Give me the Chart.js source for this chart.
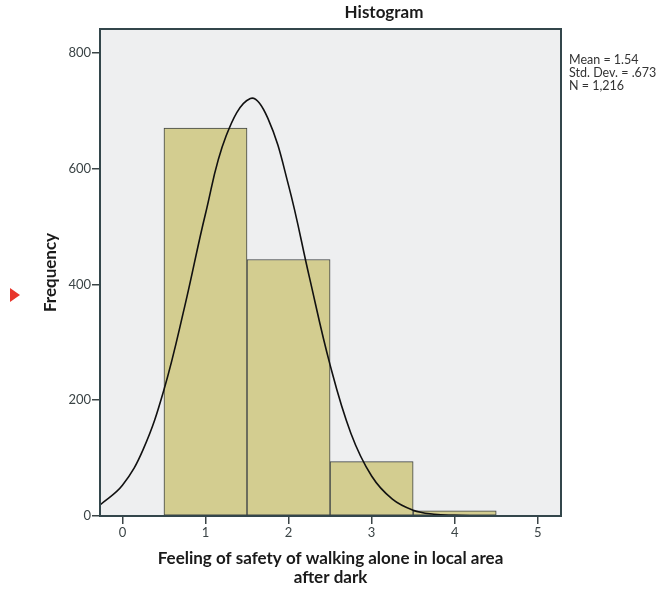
<!DOCTYPE html>
<html>
<head>
<meta charset="utf-8">
<script src="https://cdn.jsdelivr.net/npm/chart.js@4.4.1/dist/chart.umd.min.js"></script>
<style>
  html, body { margin: 0; padding: 0; background: #fff; }
  #wrap { width: 667px; height: 590px; }
</style>
</head>
<body>
<div id="wrap"><canvas id="myChart" width="667" height="590"></canvas></div>
<script>
// histogram bins (bin centres) and counts
const binCentres = [1, 2, 3, 4];
const binCounts = [670, 443, 94, 9];

// fitted normal curve
const curveX = [-0.27, 0, 0.25, 0.5, 0.75, 1, 1.25, 1.54, 1.75, 2, 2.25, 2.5, 2.75, 3, 3.25, 3.5, 3.75, 4, 4.25, 4.5, 5, 5.28];
const curveY = [19, 53, 115, 218, 362, 522, 657, 721, 687, 571, 413, 261, 143, 69, 29, 10, 3, 1, 0.3, 0, 0, 0];

const xTicks = [0, 1, 2, 3, 4, 5];
const yTicks = [0, 200, 400, 600, 800];

const statLines = ['Mean = 1.54', 'Std. Dev. = .673', 'N = 1,216'];

const fontFam = 'Lato, "Open Sans", sans-serif';
const tickColor = '#3b4446';
const frameColor = '#33464b';

const spssDecor = {
    id: 'spssDecor',
    beforeDatasetsDraw(chart) {
        const a = chart.chartArea;
        const c = chart.ctx;
        c.save();
        c.fillStyle = '#eeeff0';
        c.fillRect(a.left, a.top, a.right - a.left, a.bottom - a.top);
        c.restore();
    },
    afterDraw(chart) {
        const a = chart.chartArea;
        const c = chart.ctx;
        c.save();
        c.strokeStyle = frameColor;
        c.lineWidth = 2;
        c.strokeRect(a.left, a.top, a.right - a.left, a.bottom - a.top);

        c.fillStyle = '#1a1a1a';
        c.font = 'bold 17px ' + fontFam;
        c.textAlign = 'center';
        c.textBaseline = 'middle';
        c.fillText('Histogram', 384, 13);

        c.fillStyle = '#333';
        c.font = '12.5px ' + fontFam;
        c.textAlign = 'left';
        statLines.forEach((t, i) => c.fillText(t, 569, 60 + i * 12.8));

        // little red marker at the left edge
        c.fillStyle = '#e8352b';
        c.beginPath();
        c.moveTo(10, 288);
        c.lineTo(20, 295);
        c.lineTo(10, 302);
        c.closePath();
        c.fill();
        c.restore();
    }
};

const ctx = document.getElementById('myChart').getContext('2d');
const myChart = new Chart(ctx, {
    type: 'bar',
    data: {
        datasets: [{
            type: 'line',
            data: curveX.map((x, i) => ({ x: x, y: curveY[i] })),
            borderColor: '#111',
            borderWidth: 1.6,
            pointRadius: 0,
            fill: false,
            tension: 0.4,
            order: 0
        }, {
            type: 'bar',
            data: binCentres.map((x, i) => ({ x: x, y: binCounts[i] })),
            backgroundColor: '#d3cd90',
            borderColor: '#3d4244',
            borderWidth: 1,
            borderSkipped: false,
            barPercentage: 1,
            categoryPercentage: 1,
            order: 1
        }]
    },
    options: {
        responsive: false,
        animation: false,
        layout: {
            padding: { left: 0, right: 106, top: 29, bottom: 0 }
        },
        scales: {
            x: {
                type: 'linear',
                min: -0.27,
                max: 5.28,
                offset: false,
                afterFit: s => { s.height = 74; },
                afterBuildTicks: s => { s.ticks = xTicks.map(v => ({ value: v })); },
                grid: { offset: false, drawOnChartArea: false, tickLength: 8, color: tickColor, lineWidth: 1.5 },
                border: { color: frameColor, width: 2 },
                ticks: { color: tickColor, font: { size: 13, family: fontFam }, padding: 1, maxRotation: 0 },
                title: {
                    display: true,
                    text: ['Feeling of safety of walking alone in local area', 'after dark'],
                    color: '#1a1a1a',
                    font: { size: 17, weight: 'bold', family: fontFam, lineHeight: 1.12 },
                    padding: { top: 0, bottom: 3 }
                }
            },
            y: {
                min: 0,
                max: 841,
                afterFit: s => { s.width = 100; },
                afterBuildTicks: s => { s.ticks = yTicks.map(v => ({ value: v })); },
                grid: { drawOnChartArea: false, tickLength: 8, color: tickColor, lineWidth: 1.5 },
                border: { color: frameColor, width: 2 },
                ticks: { color: tickColor, font: { size: 13, family: fontFam }, padding: 1 },
                title: {
                    display: true,
                    text: 'Frequency',
                    color: '#1a1a1a',
                    font: { size: 17, weight: 'bold', family: fontFam },
                    padding: { top: 40, bottom: 0 }
                }
            }
        },
        plugins: {
            legend: { display: false },
            tooltip: { enabled: false }
        }
    },
    plugins: [spssDecor]
});
</script>
</body>
</html>
